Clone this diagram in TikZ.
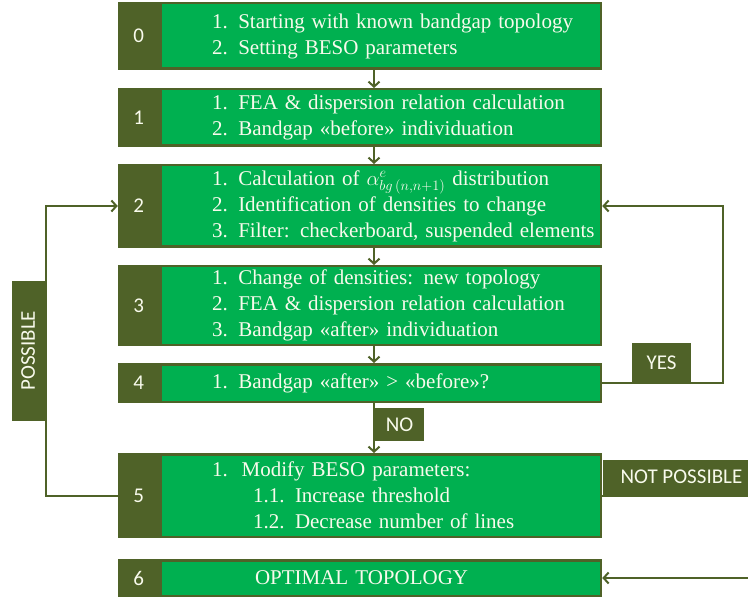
\documentclass[tikz,border=0pt]{standalone}
\usepackage{fontspec}
\setmainfont{Liberation Serif}
\newfontfamily\bodyfont{Liberation Serif}
\newfontfamily\tagfont{Carlito}
\usepackage{tikz}
\usetikzlibrary{positioning,arrows.meta}

\definecolor{stepgreen}{HTML}{00B050}
\definecolor{stepolive}{HTML}{4F6228}
\definecolor{steptext}{HTML}{F8FAEC}

\begin{document}
\begin{tikzpicture}[
    x=1pt, y=1pt,
    stepbody/.style={draw=stepolive, line width=2.5pt, fill=stepgreen, text=steptext,
      minimum width=440pt, text width=440pt, inner xsep=0pt, align=left,
      font=\bodyfont\fontsize{21}{26}\selectfont, execute at begin node={\leftskip=#1\relax}},
    stepbody/.default=51pt,
    stepnum/.style={draw=stepolive, line width=2.5pt, fill=stepolive, text=steptext,
      minimum width=39.5pt, inner sep=0pt, font=\tagfont\fontsize{21}{25}\selectfont},
    tag/.style={fill=stepolive, text=steptext, inner sep=0pt, font=\tagfont\fontsize{21}{25}\selectfont},
    flow/.style={draw=stepolive, line width=2pt, -{Straight Barb[length=5pt, width=11pt]}},
  ]
  \clip (0,0) rectangle (748,-599);
  \fill[white] (0,0) rectangle (748,-599);
  \coordinate (axis) at (374,0);

  % Steps
  \node[stepbody, minimum height=65.5pt] (b0) at (381,-36)
    {1. Starting with known bandgap topology\\2. Setting BESO parameters};
  \node[stepnum, minimum height=65.5pt, left=0pt of b0] (n0) {0};

  \node[stepbody, minimum height=56.5pt, below=18pt of b0] (b1)
    {1. FEA \& dispersion relation calculation\\2. Bandgap «before» individuation};
  \node[stepnum, minimum height=56.5pt, left=0pt of b1] (n1) {1};

  \node[stepbody, minimum height=81.5pt, below=17pt of b1] (b2)
    {1. Calculation of $\alpha^{e}_{bg\,(n,n+1)}$ distribution\\2. Identification of densities to change\\3. Filter: checkerboard, suspended elements};
  \node[stepnum, minimum height=81.5pt, left=0pt of b2] (n2) {2};

  \node[stepbody, minimum height=78.5pt, below=17pt of b2] (b3)
    {1. Change of densities: new topology\\2. FEA \& dispersion relation calculation\\3. Bandgap «after» individuation};
  \node[stepnum, minimum height=78.5pt, left=0pt of b3] (n3) {3};

  \node[stepbody, minimum height=37.5pt, below=17pt of b3] (b4)
    {1. Bandgap «after» > «before»?};
  \node[stepnum, minimum height=37.5pt, left=0pt of b4] (n4) {4};

  \node[stepbody, minimum height=82.5pt, below=50pt of b4] (b5)
    {1.\ \ Modify BESO parameters:\\\hspace*{41pt}1.1. Increase threshold\\\hspace*{41pt}1.2. Decrease number of lines};
  \node[stepnum, minimum height=82.5pt, left=0pt of b5] (n5) {5};

  \node[stepbody=94pt, minimum height=35.5pt, below=21pt of b5] (b6)
    {OPTIMAL TOPOLOGY};
  \node[stepnum, minimum height=35.5pt, left=0pt of b6] (n6) {6};

  % Main flow
  \draw[flow] (b0.south -| axis) -- (b1.north -| axis);
  \draw[flow] (b1.south -| axis) -- (b2.north -| axis);
  \draw[flow] (b2.south -| axis) -- (b3.north -| axis);
  \draw[flow] (b3.south -| axis) -- (b4.north -| axis);
  \draw[flow] (b4.south -| axis) -- node[tag, pos=0.43, anchor=west, minimum width=49pt, minimum height=33pt] (no) {NO} (b5.north -| axis);

  % Loops
  \draw[flow] (b4.east) -- node[tag, pos=0.49, anchor=south, minimum width=59pt, minimum height=39pt] (yes) {YES} ++(121,0) |- (b2.east);
  \draw[flow] (n5.west) -- ++(-72,0) |- node[tag, pos=0.25, anchor=south, rotate=90, minimum width=140pt, minimum height=33pt] (poss) {POSSIBLE} (n2.west);
  \draw[flow] (b5.east) -- node[tag, pos=0.396, anchor=south, minimum width=157pt, minimum height=35pt] (notposs) {NOT POSSIBLE} ++(200,0) |- (b6.east);
\end{tikzpicture}
\end{document}
